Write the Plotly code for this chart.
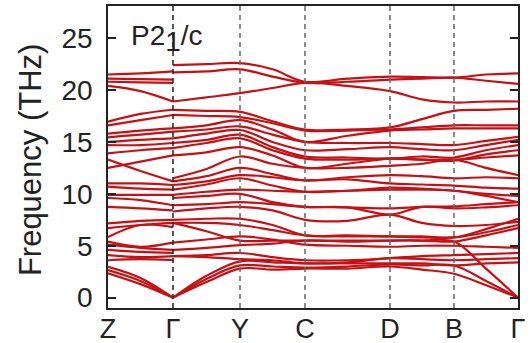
import plotly.graph_objects as go

# High-symmetry path
kpath_labels = ["Z", "Γ", "Y", "C", "D", "B", "Γ"]
kpath_dist = [0, 65, 132, 197, 282, 346, 410]

# Z -> Γ segment, values (THz) at [Z, middle, Γ]
zg_top = [
    [21.5, 21.6, 21.8],
    [21.1, 21.05, 21.0],
    [20.8, 20.75, 20.7],
    [20.4, 19.9, 18.9],
]
zg_upper = [
    [16.95, 17.7, 18.1],
    [16.6, 17.1, 17.6],
    [15.8, 16.1, 16.3],
    [15.45, 15.7, 16.0],
    [15.0, 15.2, 15.35],
    [14.7, 14.7, 14.9],
    [13.9, 14.2, 14.4],
    [12.5, 13.1, 13.7],
    [13.3, 12.2, 11.2],
]
zg_mid = [
    [11.0, 11.0, 10.85],
    [10.7, 10.5, 10.4],
    [9.9, 9.9, 9.9],
    [9.6, 9.4, 8.9],
    [8.75, 8.6, 8.4],
]
zg_low = [
    [7.15, 7.4, 7.5],
    [6.7, 7.0, 7.2],
    [5.85, 7.0, 6.8],
    [5.4, 4.9, 5.3],
    [5.1, 4.8, 4.6],
    [4.6, 4.4, 4.3],
    [4.1, 3.9, 4.0],
    [3.6, 3.7, 3.6],
]
zg_acoustic = [
    [2.97, 1.9, 0.0],
    [2.65, 1.6, 0.0],
    [2.35, 1.3, 0.0],
]

# Γ -> Y -> C -> D -> B -> Γ, values at [Γ, m, Y, m, C, m, D, m, B, m, Γ]
path_top = [
    [22.4, 22.5, 22.6, 22.0, 20.8, 21.1, 21.3, 21.25, 21.2, 21.5, 21.6],
    [21.7, 21.8, 22.0, 21.3, 20.7, 20.8, 21.0, 21.1, 21.2, 20.9, 20.6],
    [18.9, 19.3, 19.7, 20.2, 20.7, 20.4, 19.9, 19.1, 18.8, 18.9, 18.9],
]
path_upper = [
    [18.1, 18.0, 17.9, 17.0, 16.2, 16.2, 16.4, 17.2, 18.0, 18.1, 18.2],
    [17.6, 17.5, 17.4, 16.8, 16.1, 16.1, 16.2, 16.4, 16.6, 16.6, 16.6],
    [16.3, 16.6, 17.1, 16.2, 15.0, 15.6, 16.1, 16.2, 16.3, 16.3, 16.3],
    [16.0, 16.2, 16.5, 15.7, 15.0, 14.9, 14.9, 14.8, 14.7, 15.1, 15.5],
    [15.35, 15.8, 16.15, 15.0, 14.2, 14.3, 14.5, 14.3, 14.2, 14.7, 15.2],
    [14.9, 15.2, 15.7, 14.5, 13.6, 13.5, 13.4, 13.6, 13.5, 14.2, 14.7],
    [14.4, 14.9, 15.35, 14.2, 13.4, 13.3, 13.4, 13.3, 13.2, 13.8, 14.2],
    [13.7, 14.0, 14.5, 13.7, 12.5, 12.9, 13.4, 13.3, 13.3, 13.5, 13.7],
    [11.5, 12.4, 13.6, 12.9, 12.5, 12.5, 12.7, 12.9, 13.3, 12.5, 11.8],
    [11.2, 11.7, 12.5, 11.9, 11.3, 11.6, 11.8, 11.7, 11.5, 11.6, 11.5],
]
path_mid = [
    [10.85, 11.2, 11.8, 11.6, 11.3, 11.4, 11.0, 10.9, 10.8, 10.6, 10.5],
    [10.4, 10.9, 11.5, 10.8, 10.2, 10.3, 10.6, 10.5, 10.3, 10.0, 9.8],
    [9.9, 10.2, 10.4, 10.3, 10.2, 10.3, 10.4, 10.4, 10.3, 9.8, 9.2],
    [9.6, 9.8, 10.0, 9.2, 8.75, 8.7, 8.0, 8.75, 8.6, 8.7, 8.9],
    [8.9, 9.0, 9.2, 9.0, 8.75, 8.7, 8.6, 8.75, 8.8, 9.0, 9.2],
    [8.3, 8.6, 8.75, 8.4, 7.5, 7.4, 8.0, 7.2, 6.9, 7.0, 7.3],
]
path_low = [
    [7.5, 7.6, 7.6, 7.0, 6.0, 6.0, 5.9, 5.9, 5.8, 6.6, 7.6],
    [7.2, 7.2, 7.0, 6.5, 6.0, 5.9, 5.9, 5.8, 5.8, 6.3, 7.0],
    [7.2, 6.4, 5.5, 5.5, 5.5, 5.5, 5.5, 5.5, 5.4, 6.0, 6.7],
    [5.3, 5.6, 5.9, 5.6, 5.1, 5.0, 4.9, 5.0, 5.0, 4.9, 4.8],
    [4.6, 4.8, 5.05, 5.2, 5.5, 5.4, 5.5, 5.5, 5.4, 2.8, 0.0],
    [4.0, 4.1, 4.3, 3.9, 3.6, 3.6, 3.8, 4.0, 4.1, 4.2, 4.3],
    [4.0, 3.9, 3.7, 3.6, 3.3, 3.4, 3.8, 3.7, 3.6, 3.7, 3.8],
]
path_acoustic = [
    [0.0, 2.1, 3.5, 3.4, 3.3, 3.3, 3.3, 3.3, 3.1, 3.3, 3.4],
    [0.0, 1.8, 3.1, 3.0, 2.9, 3.0, 3.2, 3.1, 3.1, 1.6, 0.0],
    [0.0, 1.5, 2.8, 2.7, 2.8, 2.8, 3.0, 2.7, 2.3, 1.2, 0.0],
]

yticks = [0, 5, 10, 15, 20, 25]

# sample positions along the path (high-symmetry points and segment midpoints)
x_left = [kpath_dist[0], (kpath_dist[0] + kpath_dist[1]) / 2, kpath_dist[1]]
x_right = []
for i in range(1, len(kpath_dist) - 1):
    x_right += [kpath_dist[i], (kpath_dist[i] + kpath_dist[i + 1]) / 2]
x_right.append(kpath_dist[-1])

RED = "rgb(200,16,20)"
fig = go.Figure()
for band in zg_top + zg_upper + zg_mid + zg_low + zg_acoustic:
    fig.add_trace(go.Scatter(x=x_left, y=band, mode="lines",
                             line=dict(color=RED, width=2.2, shape="spline", smoothing=1.0),
                             hoverinfo="skip"))
for band in path_top + path_upper + path_mid + path_low + path_acoustic:
    fig.add_trace(go.Scatter(x=x_right, y=band, mode="lines",
                             line=dict(color=RED, width=2.2, shape="spline", smoothing=1.0),
                             hoverinfo="skip"))

shapes = []
for i, k in enumerate(kpath_dist[1:-1]):
    shapes.append(dict(type="line", xref="x", yref="paper", x0=k, x1=k, y0=0, y1=1,
                       layer="above",
                       line=dict(color="#222" if i == 0 else "#666", width=1.5, dash="5px,4px")))

FONT = "Liberation Sans, Arial, sans-serif"
fig.update_layout(
    width=531, height=343, autosize=False,
    margin=dict(l=108, r=13, t=6, b=35, autoexpand=False),
    plot_bgcolor="white", paper_bgcolor="white",
    showlegend=False,
    shapes=shapes,
    xaxis=dict(range=[kpath_dist[0], kpath_dist[-1]], tickvals=kpath_dist, ticktext=kpath_labels,
               ticks="", showline=True, linecolor="#222", linewidth=1.5, mirror=True,
               showgrid=False, zeroline=False, automargin=False, ticklabelstandoff=-4,
               tickfont=dict(family=FONT, size=27, color="#222")),
    yaxis=dict(range=[-1.0, 28.1], tickvals=yticks, ticktext=[str(v) for v in yticks],
               ticks="inside", ticklen=8, tickwidth=1.5, tickcolor="#222",
               showline=True, linecolor="#222", linewidth=1.5, mirror="ticks",
               showgrid=False, zeroline=False, ticklabelstandoff=8, automargin=False,
               tickfont=dict(family=FONT, size=28, color="#222")),
    annotations=[
        dict(text="Frequency (THz)", textangle=-90, xref="paper", yref="paper",
             x=-0.19, y=0.49, xanchor="center", yanchor="middle", showarrow=False,
             font=dict(family=FONT, size=31, color="#222")),
        dict(text="P2<sub><span style='font-size:28px'>1</span></sub>/c", xref="paper", yref="y",
             x=0.05, y=25, xanchor="left", yanchor="middle", showarrow=False,
             font=dict(family=FONT, size=28, color="#222")),
    ],
)

fig.write_html("out.html")
